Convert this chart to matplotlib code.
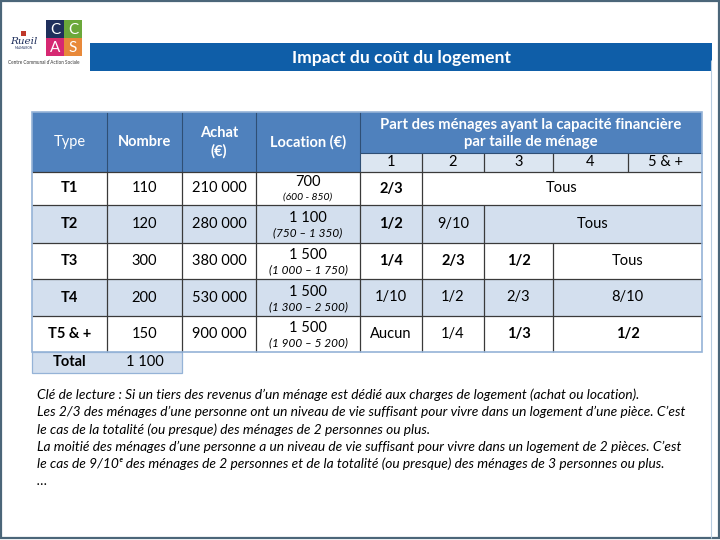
import matplotlib
matplotlib.use('Agg')
import matplotlib.pyplot as plt
from matplotlib.patches import Rectangle

plt.rcParams['font.family'] = ['Lato', 'DejaVu Sans']

# ---- data ----
types = ['T1', 'T2', 'T3', 'T4', 'T5 & +']
nombre = [110, 120, 300, 200, 150]
total_nombre = 1100
achat = [210000, 280000, 380000, 530000, 900000]
loyer = [700, 1100, 1500, 1500, 1500]
loyer_min = [600, 750, 1000, 1300, 1900]
loyer_max = [850, 1350, 1750, 2500, 5200]
loyer_sep = [' - ', ' – ', ' – ', ' – ', ' – ']
tailles = ['1', '2', '3', '4', '5 & +']
# (valeur, nb de colonnes fusionnees, gras)
parts = [
    [('2/3', 1, True), ('Tous', 4, False)],
    [('1/2', 1, True), ('9/10', 1, False), ('Tous', 3, False)],
    [('1/4', 1, True), ('2/3', 1, True), ('1/2', 1, True), ('Tous', 2, False)],
    [('1/10', 1, False), ('1/2', 1, False), ('2/3', 1, False), ('8/10', 2, False)],
    [('Aucun', 1, False), ('1/4', 1, False), ('1/3', 1, True), ('1/2', 2, True)],
]
titre = 'Impact du coût du logement'
notes = [
    "Clé de lecture : Si un tiers des revenus d’un ménage est dédié aux charges de logement (achat ou location).",
    "Les 2/3 des ménages d’une personne ont un niveau de vie suffisant pour vivre dans un logement d’une pièce. C’est",
    "le cas de la totalité (ou presque) des ménages de 2 personnes ou plus.",
    "La moitié des ménages d’une personne a un niveau de vie suffisant pour vivre dans un logement de 2 pièces. C’est",
    "le cas de 9/10ᵉ des ménages de 2 personnes et de la totalité (ou presque) des ménages de 3 personnes ou plus.",
    "…",
]


def fmt(n):
    return f'{n:,}'.replace(',', ' ')


# ---- layout (pixels) ----
col_x = [32, 107, 182, 256, 360, 422, 484, 553, 628, 702]
row_y = [172, 205, 243, 279, 316, 352]
head_top, sub_top, total_bot = 112, 153, 373

blue = '#4F81BD'
light = '#D3DFEE'
sub_fill = '#DCE6F1'
edge = '#95B3D7'
dark = '#3A3A3A'

fig = plt.figure(figsize=(7.2, 5.4), dpi=100)
ax = fig.add_axes([0, 0, 1, 1])
ax.set_xlim(0, 720)
ax.set_ylim(540, 0)
ax.axis('off')


def rect(x0, y0, x1, y1, fc, ec='none', lw=0, z=1):
    ax.add_patch(Rectangle((x0, y0), x1 - x0, y1 - y0, fc=fc, ec=ec, lw=lw, zorder=z))


def hline(y, x0, x1, c=dark, lw=0.9):
    ax.plot([x0, x1], [y, y], color=c, lw=lw, zorder=3, solid_capstyle='butt')


def vline(x, y0, y1, c=dark, lw=0.9):
    ax.plot([x, x], [y0, y1], color=c, lw=lw, zorder=3, solid_capstyle='butt')


# frame
rect(1, 1, 719, 538, 'white', ec='#4B6679', lw=1.6, z=0)
vline(711, 60, 538, c='#B7CCE0', lw=0.8)

# logo
logo = [('C', '#1F2F5C', 46, 20), ('C', '#6BA83A', 64, 20),
        ('A', '#D62872', 46, 38), ('S', '#E8893A', 64, 38)]
for letter, c, x, y in logo:
    rect(x, y, x + 18, y + 18, c, z=2)
    ax.text(x + 9, y + 9.5, letter, color='white', fontsize=11, ha='center',
            va='center', zorder=3)
ax.text(24, 42, 'Rueil', color='#1F2F5C', fontsize=7.5, style='italic',
        ha='center', va='center', family='DejaVu Serif')
rect(21, 31, 26, 36, '#C0392B', z=2)
ax.text(24, 48, 'MALMAISON', color='#1F2F5C', fontsize=2.2, ha='center', va='center')
ax.text(44, 63, 'Centre Communal d’Action Sociale', color='#333333', fontsize=3.3,
        ha='center', va='center')

# title bar
rect(90, 43, 712, 71, '#0F5EA8', z=1)
ax.text(401, 57.5, titre, color='white', fontsize=12.6, fontweight='bold',
        ha='center', va='center', zorder=3)

# header
rect(col_x[0], head_top, col_x[-1], row_y[0], blue)
rect(col_x[4], sub_top, col_x[-1], row_y[0], sub_fill, z=2)
hcy = (head_top + row_y[0]) / 2
ax.text((col_x[0] + col_x[1]) / 2, hcy, 'Type', color='white', fontsize=10.5,
        ha='center', va='center', zorder=4)
for i, lab in enumerate(['Nombre', 'Achat\n(€)', 'Location (€)'], start=1):
    ax.text((col_x[i] + col_x[i + 1]) / 2, hcy, lab, color='white', fontsize=10.5,
            fontweight='bold', ha='center', va='center', linespacing=1.35, zorder=4)
ax.text((col_x[4] + col_x[-1]) / 2, (head_top + sub_top) / 2 + 1,
        'Part des ménages ayant la capacité financière\npar taille de ménage',
        color='white', fontsize=10.7, fontweight='bold', ha='center', va='center',
        linespacing=1.25, zorder=4)
for j, t in enumerate(tailles):
    ax.text((col_x[4 + j] + col_x[5 + j]) / 2, (sub_top + row_y[0]) / 2, t,
            color='black', fontsize=10.5, ha='center', va='center', zorder=4)
for x in col_x[1:4]:
    vline(x, head_top, row_y[0], c='#2F4F75', lw=0.8)
vline(col_x[4], head_top, row_y[0], c='#2F4F75', lw=0.8)
for x in col_x[5:9]:
    vline(x, sub_top, row_y[0])
hline(sub_top, col_x[4], col_x[-1], c='#2F4F75', lw=0.8)

# body rows
for r in range(len(types)):
    y0, y1 = row_y[r], row_y[r + 1]
    cy = (y0 + y1) / 2
    rect(col_x[0], y0, col_x[-1], y1, light if r % 2 == 1 else 'white')
    ax.text((col_x[0] + col_x[1]) / 2, cy, types[r], fontsize=10.5, fontweight='bold',
            ha='center', va='center', zorder=4)
    ax.text((col_x[1] + col_x[2]) / 2, cy, str(nombre[r]), fontsize=10.5,
            ha='center', va='center', zorder=4)
    ax.text((col_x[2] + col_x[3]) / 2, cy, fmt(achat[r]), fontsize=10.5,
            ha='center', va='center', zorder=4)
    lx = (col_x[3] + col_x[4]) / 2
    ax.text(lx, cy - 6, fmt(loyer[r]), fontsize=10.5, ha='center', va='center', zorder=4)
    ax.text(lx, cy + 9, '(' + fmt(loyer_min[r]) + loyer_sep[r] + fmt(loyer_max[r]) + ')',
            fontsize=7.5 if r == 0 else 8.5, style='italic', ha='center', va='center',
            zorder=4)
    c = 4
    for val, span, bold in parts[r]:
        ax.text((col_x[c] + col_x[c + span]) / 2, cy, val, fontsize=10.5,
                fontweight='bold' if bold else 'normal', ha='center', va='center',
                zorder=4)
        if c > 4:
            vline(col_x[c], y0, y1)
        c += span
    for x in col_x[1:5]:
        vline(x, y0, y1)
    hline(y0, col_x[0], col_x[-1])

# total row
rect(col_x[0], row_y[-1], col_x[2], total_bot, light, ec=edge, lw=0.9, z=2)
ty = (row_y[-1] + total_bot) / 2
ax.text((col_x[0] + col_x[1]) / 2, ty, 'Total', fontsize=10.5, fontweight='bold',
        ha='center', va='center', zorder=4)
ax.text((col_x[1] + col_x[2]) / 2, ty, fmt(total_nombre), fontsize=10.5,
        ha='center', va='center', zorder=4)

# outer border of table
rect(col_x[0], head_top, col_x[-1], row_y[-1], 'none', ec=edge, lw=1.2, z=5)

# notes
for k, line in enumerate(notes):
    ax.text(37, 395 + k * 17.2, line, fontsize=9.9, style='italic', ha='left',
            va='center', zorder=4)

fig.savefig('out.png', dpi=100)
